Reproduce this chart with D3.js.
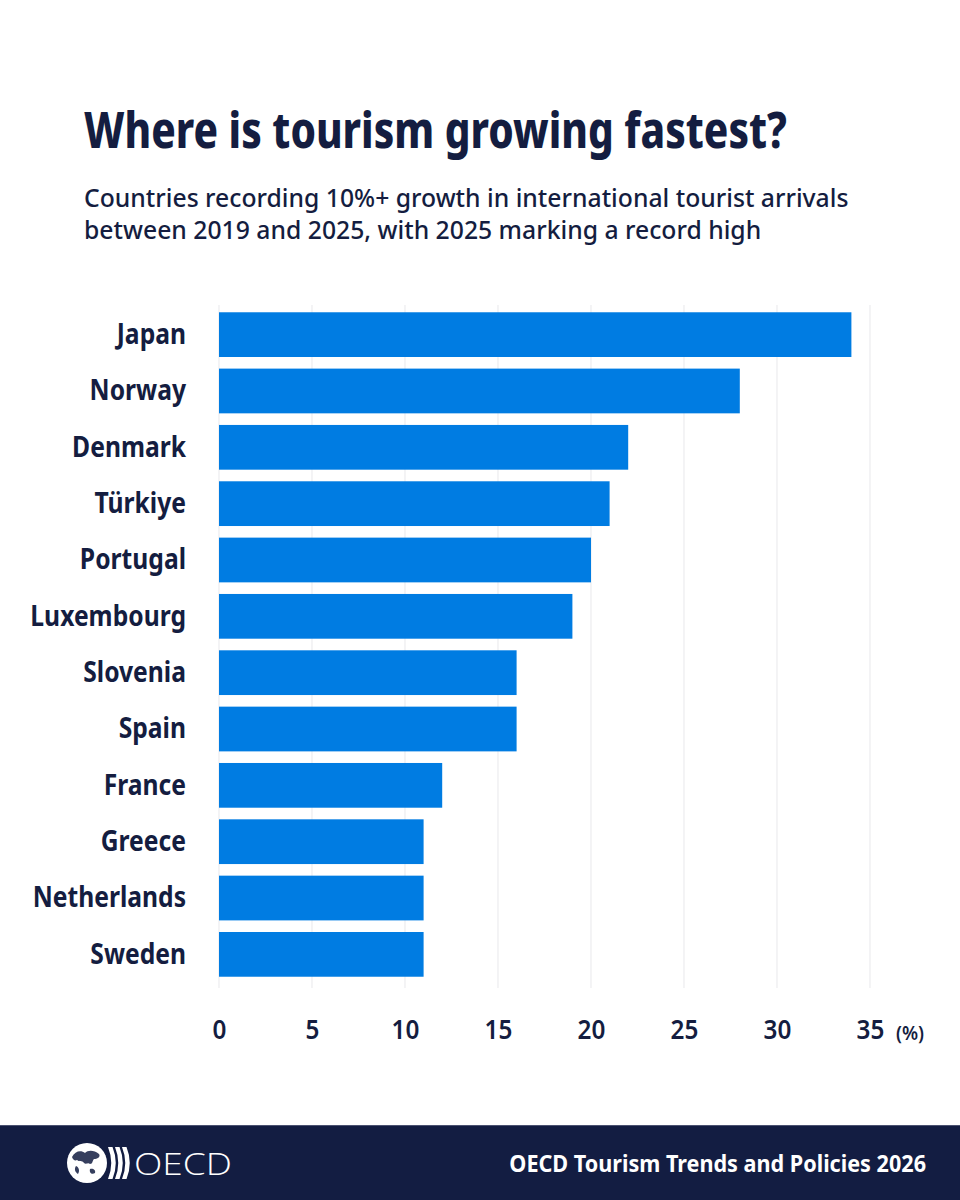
<!DOCTYPE html>
<html>
<head>
<meta charset="utf-8">
<script src="https://cdn.jsdelivr.net/npm/d3@7"></script>
<style>
  body { margin: 0; background: #fff; }
  svg { display: block; }
  text { font-family: "Noto Sans", "Open Sans", sans-serif; }
</style>
</head>
<body>
<script>
const w = 960;
const h = 1200;
const margin = { top: 301, left: 219, right: 90, bottom: 212 };

const countries = ['Japan', 'Norway', 'Denmark', 'Türkiye', 'Portugal', 'Luxembourg',
  'Slovenia', 'Spain', 'France', 'Greece', 'Netherlands', 'Sweden'];
const growth = [34, 28, 22, 21, 20, 19, 16, 16, 12, 11, 11, 11];
const xTicks = [0, 5, 10, 15, 20, 25, 30, 35];

const navy = '#141d40';
const barColor = '#007ce2';

const data = countries.map((c, i) => ({ country: c, value: growth[i] }));

// squeeze text horizontally (no condensed font installed)
function condense(sel, factor) {
  sel.each(function () {
    const len = this.getComputedTextLength();
    d3.select(this)
      .attr('textLength', len * factor)
      .attr('lengthAdjust', 'spacingAndGlyphs');
  });
}

const svg = d3.select('body').append('svg')
  .attr('width', w)
  .attr('height', h);

// title + subtitle
svg.append('text')
  .attr('x', 84)
  .attr('y', 148)
  .attr('fill', navy)
  .attr('font-size', 50)
  .attr('font-weight', 800)
  .text('Where is tourism growing fastest?')
  .call(condense, 0.81);

const subLines = ['Countries recording 10%+ growth in international tourist arrivals',
  'between 2019 and 2025, with 2025 marking a record high'];
svg.append('g')
  .selectAll('text')
  .data(subLines)
  .enter()
  .append('text')
  .attr('x', 84)
  .attr('y', (d, i) => 207 + i * 32)
  .attr('fill', navy)
  .attr('font-size', 25.5)
  .attr('font-weight', 500)
  .text(d => d)
  .call(condense, 0.97);

const xScale = d3.scaleLinear()
  .domain([0, 35])
  .range([margin.left, w - margin.right]);

const yScale = d3.scaleBand()
  .domain(countries)
  .range([margin.top, h - margin.bottom])
  .paddingInner(0.206)
  .paddingOuter(0.2);

// gridlines
svg.append('g')
  .selectAll('line')
  .data(xTicks)
  .enter()
  .append('line')
  .attr('x1', d => xScale(d))
  .attr('x2', d => xScale(d))
  .attr('y1', margin.top + 4)
  .attr('y2', h - margin.bottom)
  .attr('stroke', '#ececef')
  .attr('stroke-width', 1.2);

// bars
svg.append('g')
  .selectAll('rect')
  .data(data)
  .enter()
  .append('rect')
  .attr('x', xScale(0))
  .attr('y', d => yScale(d.country))
  .attr('width', d => xScale(d.value) - xScale(0))
  .attr('height', yScale.bandwidth())
  .attr('fill', barColor);

// y axis labels
const yAxis = d3.axisLeft(yScale).tickSize(0).tickPadding(33);
svg.append('g')
  .attr('transform', `translate(${margin.left}, 0)`)
  .call(yAxis)
  .call(g => g.select('.domain').remove())
  .call(g => g.selectAll('text')
    .attr('fill', navy)
    .attr('font-size', 29)
    .attr('font-weight', 700)
    .style('font-family', '"Noto Sans", sans-serif')
    .call(condense, 0.85));

// x axis
const xAxis = d3.axisBottom(xScale).tickValues(xTicks).tickSize(0).tickPadding(32);
svg.append('g')
  .attr('transform', `translate(0, ${h - margin.bottom})`)
  .call(xAxis)
  .call(g => g.select('.domain').remove())
  .call(g => g.selectAll('text')
    .attr('fill', navy)
    .attr('font-size', 27)
    .attr('font-weight', 600)
    .style('font-family', '"Noto Sans", sans-serif')
    .call(condense, 0.9));

svg.append('text')
  .attr('x', xScale(35) + 26)
  .attr('y', 1040)
  .attr('fill', navy)
  .attr('font-size', 20)
  .attr('font-weight', 600)
  .text('(%)')
  .call(condense, 0.92);

// footer
const footer = svg.append('g').attr('transform', 'translate(0, 1125)');
footer.append('rect')
  .attr('width', w)
  .attr('height', 75)
  .attr('fill', '#131d42');
footer.append('line')
  .attr('x1', 0).attr('x2', w).attr('y1', 0.5).attr('y2', 0.5)
  .attr('stroke', '#4a5170').attr('stroke-width', 1);

// OECD logo: globe + chevrons + wordmark
const logo = footer.append('g').attr('transform', 'translate(87, 38)');
logo.append('circle').attr('r', 20).attr('fill', '#fff');
logo.append('path')
  .attr('d', 'M-15,-6 C-12,-12 -6,-13 -2,-10 C1,-13 7,-13 12,-9 C14,-6 10,-4 7,-4 C5,-2 6,1 3,1 C1,-1 -1,2 -3,0 C-5,-3 -8,-1 -10,-3 C-12,-2 -14,-3 -15,-6 Z M3,6 C6,5 9,7 8,10 C5,12 2,10 3,6 Z M-11,3 C-8,4 -7,8 -9,11 C-12,9 -13,6 -11,3 Z')
  .attr('fill', '#131d42')
  .attr('opacity', 0.85);
const chev = [0, 1, 2];
logo.selectAll('path.chev')
  .data(chev)
  .enter()
  .append('path')
  .attr('class', 'chev')
  .attr('d', (d, i) => `M${21 + i * 7},-16 L${25.5 + i * 7},-16 Q${32 + i * 7},0 ${25.5 + i * 7},16 L${21 + i * 7},16 Q${27.5 + i * 7},0 ${21 + i * 7},-16 Z`)
  .attr('fill', '#fff');
footer.append('text')
  .attr('x', 134)
  .attr('y', 50)
  .attr('fill', '#fff')
  .attr('font-size', 32)
  .attr('font-weight', 300)
  .attr('textLength', 98)
  .attr('lengthAdjust', 'spacingAndGlyphs')
  .style('font-family', '"Open Sans", sans-serif')
  .text('OECD');

footer.append('text')
  .attr('x', 926)
  .attr('y', 47)
  .attr('text-anchor', 'end')
  .attr('fill', '#fff')
  .attr('font-size', 22.5)
  .attr('font-weight', 700)
  .text('OECD Tourism Trends and Policies 2026')
  .call(condense, 0.96);
</script>
</body>
</html>
